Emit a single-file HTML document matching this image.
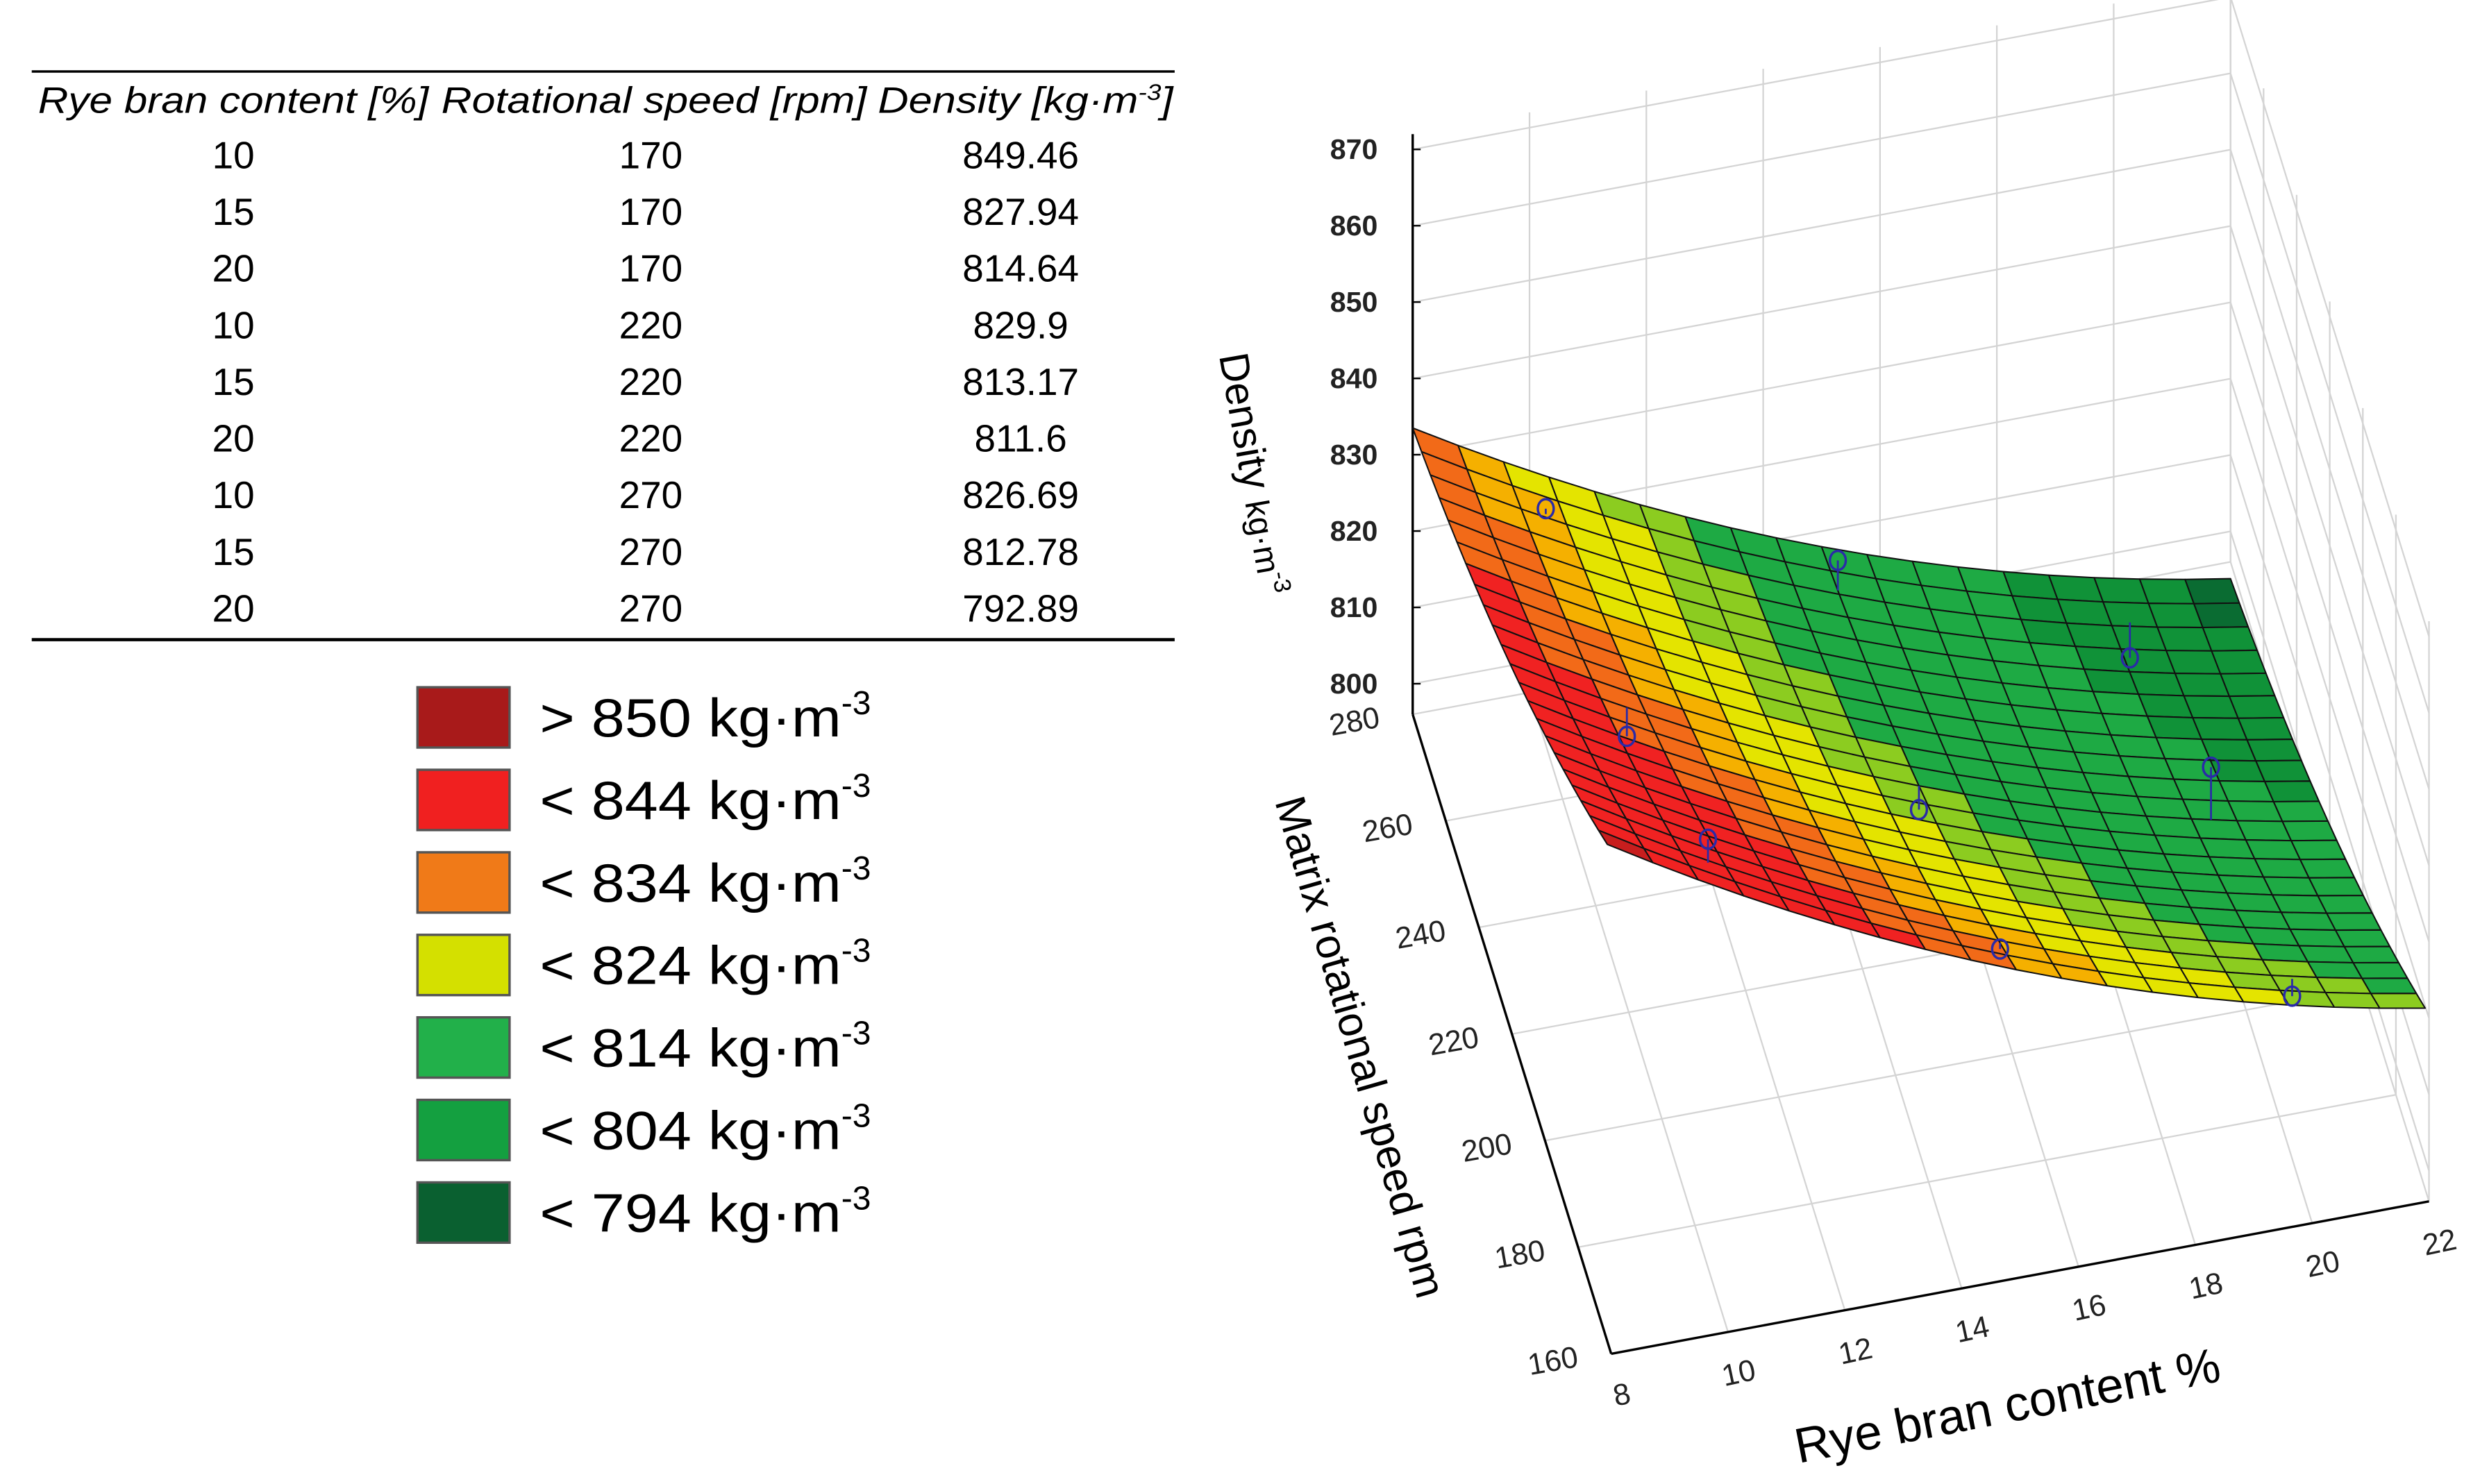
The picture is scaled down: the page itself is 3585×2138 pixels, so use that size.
<!DOCTYPE html>
<html><head><meta charset="utf-8"><style>
html,body{margin:0;padding:0;background:#fff}
svg{display:block}
text{font-family:"Liberation Sans Narrow","Liberation Sans",sans-serif}
</style></head><body>
<svg id="root" width="3585" height="2138" viewBox="0 0 1568 935" xmlns="http://www.w3.org/2000/svg">
<g id="table"></g>
<g id="legend"></g>
<g id="chart"></g>
</svg>
<script>
const branContent = [10, 15, 20, 10, 15, 20, 10, 15, 20];
const rotSpeed = [170, 170, 170, 220, 220, 220, 270, 270, 270];
const densityVals = [849.46, 827.94, 814.64, 829.9, 813.17, 811.6, 826.69, 812.78, 792.89];
const densityLabels = ["849.46","827.94","814.64","829.9","813.17","811.6","826.69","812.78","792.89"];
const legendLabels = ["> 850 kg·m", "< 844 kg·m", "< 834 kg·m", "< 824 kg·m", "< 814 kg·m", "< 804 kg·m", "< 794 kg·m"];
const legendColors = ["#a81a1a", "#f02020", "#f07a18", "#d4e000", "#22b04a", "#14a040", "#0a6030"];
const densityTicks = [800, 810, 820, 830, 840, 850, 860, 870];
const rpmTicks = [160, 180, 200, 220, 240, 260, 280];
const branTicks = [8, 10, 12, 14, 16, 18, 20, 22];

const NS = "http://www.w3.org/2000/svg";
function mk(tag, attrs, parent, txt){const e=document.createElementNS(NS,tag);for(const k in attrs)e.setAttribute(k,attrs[k]);if(txt!==undefined)e.textContent=txt;parent.appendChild(e);return e;}

// ---- table
const tb = document.getElementById('table');
let l1 = mk('line',{x1:20,y1:45,x2:740,y2:45,stroke:'#000','stroke-width':1.5},tb);


const hdr = [["Rye bran content [%]",24,246],["Rotational speed [rpm]",278,268],["Density [kg·m-3]",553,186]];
hdr.forEach(h=>{
  const t=mk('text',{x:h[1],y:71,'font-size':23,'font-style':'italic',textLength:h[2],lengthAdjust:'spacingAndGlyphs'},tb);
  if(h[0].startsWith('Density')){t.textContent='Density [kg·m';mk('tspan',{dy:-8,'font-size':14},t,'-3');mk('tspan',{dy:8},t,']');}
  else t.textContent=h[0];
  
  
});
for(let i=0;i<densityVals.length;i++){
  const y=106+i*35.7;
  const a=mk('text',{x:147,y:y,'font-size':24,'text-anchor':'middle'},tb,String(branContent[i]));
  
  
  const b=mk('text',{x:410,y:y,'font-size':24,'text-anchor':'middle'},tb,String(rotSpeed[i]));
  
  
  const c=mk('text',{x:643,y:y,'font-size':24,'text-anchor':'middle'},tb,densityLabels[i]);
  
  
}
let l2 = mk('line',{x1:20,y1:403,x2:740,y2:403,stroke:'#000','stroke-width':2},tb);



// ---- legend
const lg=document.getElementById('legend');
legendLabels.forEach((lab,i)=>{
  const y=433+i*52;
  const g=mk('g',{},lg);
  
  
  mk('rect',{x:263,y:y,width:58,height:38,fill:legendColors[i],stroke:'#555','stroke-width':1.5},g);
  const t=mk('text',{x:340,y:y+31,'font-size':34,style:'font-family:"Liberation Sans",sans-serif'},g);
  mk('tspan',{textLength:190,lengthAdjust:'spacingAndGlyphs'},t,lab);
  mk('tspan',{dy:-14,'font-size':21},t,'-3');
});

// ---- 3D chart
const ch=document.getElementById('chart');
const O=[1015,853], EX=[36.8,-6.86], ER=[-1.042,-3.358], EZ=-4.81, B0=8, R0=160, D0=796;
function P(b,r,d){return [O[0]+(b-B0)*EX[0]+(r-R0)*ER[0], O[1]+(b-B0)*EX[1]+(r-R0)*ER[1]+(d-D0)*EZ];}
const bMin=8,bMax=22,rMin=160,rMax=280,dMin=D0,dMax=872;
// surface points get a slight perspective lift toward the viewer
function PS(b,r,d){const p=P(b,r,d);return [p[0]-0.02*(rMax-r),p[1]-0.18*(rMax-r)];}
const grid='#d4d4d4';
function ln(p,q,col,w,name){const e=mk('line',{x1:p[0],y1:p[1],x2:q[0],y2:q[1],stroke:col,'stroke-width':w},ch);return e;}
branTicks.forEach(b=>ln(P(b,rMax,dMin),P(b,rMax,dMax),grid,1,'back-wall-gridline'));
densityTicks.forEach(d=>ln(P(bMin,rMax,d),P(bMax,rMax,d),grid,1,'back-wall-gridline'));
rpmTicks.forEach(r=>ln(P(bMax,r,dMin),P(bMax,r,dMax),grid,1,'side-wall-gridline'));
densityTicks.forEach(d=>ln(P(bMax,rMin,d),P(bMax,rMax,d),grid,1,'side-wall-gridline'));
branTicks.forEach(b=>ln(P(b,rMin,dMin),P(b,rMax,dMin),grid,1,'floor-gridline'));
rpmTicks.forEach(r=>ln(P(bMin,r,dMin),P(bMax,r,dMin),grid,1,'floor-gridline'));
ln(P(bMin,rMax,dMin),P(bMin,rMax,dMax),'#000',1.5,'density-axis');
ln(P(bMin,rMin,dMin),P(bMin,rMax,dMin),'#000',1.5,'rpm-axis');
ln(P(bMin,rMin,dMin),P(bMax,rMin,dMin),'#000',1.5,'bran-axis');

function fit(){
  const rows=[];for(let i=0;i<densityVals.length;i++){const x=(branContent[i]-15)/5,r=(rotSpeed[i]-220)/50;rows.push([1,x,r,x*x,r*r,x*r]);}
  const n=6,A=[];for(let i=0;i<n;i++){A.push(new Array(n+1).fill(0));}
  rows.forEach((row,k)=>{for(let i=0;i<n;i++){for(let j=0;j<n;j++)A[i][j]+=row[i]*row[j];A[i][n]+=row[i]*densityVals[k];}});
  for(let i=0;i<n;i++){let p=i;for(let k=i+1;k<n;k++)if(Math.abs(A[k][i])>Math.abs(A[p][i]))p=k;[A[i],A[p]]=[A[p],A[i]];
    for(let k=0;k<n;k++){if(k===i)continue;const f=A[k][i]/A[i][i];for(let j=i;j<=n;j++)A[k][j]-=f*A[i][j];}}
  return A.map((row,i)=>row[n]/row[i]);
}
const C=fit();
function F(b,r){const x=(b-15)/5,y=(r-220)/50;return C[0]+C[1]*x+C[2]*y+C[3]*x*x+C[4]*y*y+C[5]*x*y;}
function col(d){if(d>854)return '#c81e1e';if(d>836)return '#f02222';if(d>830)return '#f26a18';if(d>826)return '#f5b000';if(d>820)return '#e4e400';if(d>815)return '#8ccc20';if(d>801)return '#1eaa44';if(d>795)return '#109238';return '#0a6c32';}
const NB=18,NR=22;
for(let j=NR-1;j>=0;j--){
  for(let i=0;i<NB;i++){
    const b1=bMin+(bMax-bMin)*i/NB,b2=bMin+(bMax-bMin)*(i+1)/NB;
    const r1=rMin+(rMax-rMin)*j/NR,r2=rMin+(rMax-rMin)*(j+1)/NR;
    const pts=[[b1,r1],[b2,r1],[b2,r2],[b1,r2]].map(q=>PS(q[0],q[1],F(q[0],q[1])));
    const dc=F((b1+b2)/2,(r1+r2)/2);
    const e=mk('polygon',{points:pts.map(p=>p.join(',')).join(' '),fill:col(dc),stroke:'#111','stroke-width':0.9,'stroke-linejoin':'round'},ch);
    
    
  }
}
for(let i=0;i<densityVals.length;i++){
  const p=PS(branContent[i],rotSpeed[i],densityVals[i]);
  const q=PS(branContent[i],rotSpeed[i],F(branContent[i],rotSpeed[i]));
  ln(p,q,'#2a2aa8',1.2,'residual-line');
  const c=mk('ellipse',{cx:p[0],cy:p[1],rx:5,ry:6,fill:'none',stroke:'#2a2aa8','stroke-width':1.5},ch);
  
  
}
const ts='font-family:"Liberation Sans",sans-serif';
densityTicks.forEach(d=>{const p=P(bMin,rMax,d);const t=mk('text',{x:p[0]-22,y:p[1]+6,'font-size':18,'text-anchor':'end',style:ts,fill:'#222','font-weight':'bold'},ch,String(d));
  
  ln(p,[p[0]+5,p[1]],'#000',1,'density-tick');});
rpmTicks.forEach(r=>{const p=P(bMin,r,dMin);const t=mk('text',{x:p[0]-20,y:p[1]+8,'font-size':19,'text-anchor':'end',style:ts,fill:'#222',transform:`rotate(-10 ${p[0]-20} ${p[1]+8})`},ch,String(r));
  });
branTicks.forEach(b=>{const p=P(b,rMin,dMin);const t=mk('text',{x:p[0]+8,y:p[1]+32,'font-size':19,'text-anchor':'middle',style:ts,fill:'#222',transform:`rotate(-12 ${p[0]+8} ${p[1]+32})`},ch,String(b));
  });
let t1=mk('text',{x:0,y:0,'font-size':26,style:ts,transform:'translate(768,224) rotate(80)'},ch,'Density ');
mk('tspan',{'font-size':21},t1,'kg·m');mk('tspan',{dy:-9,'font-size':15},t1,'-3');

let t2=mk('text',{x:0,y:0,'font-size':27,style:ts,transform:'translate(803,505) rotate(74)'},ch,'Matrix rotational speed rpm');

let t3=mk('text',{x:0,y:0,'font-size':31,style:ts,transform:'translate(1133,922) rotate(-11)'},ch,'Rye bran content %');

</script>
</body></html>
